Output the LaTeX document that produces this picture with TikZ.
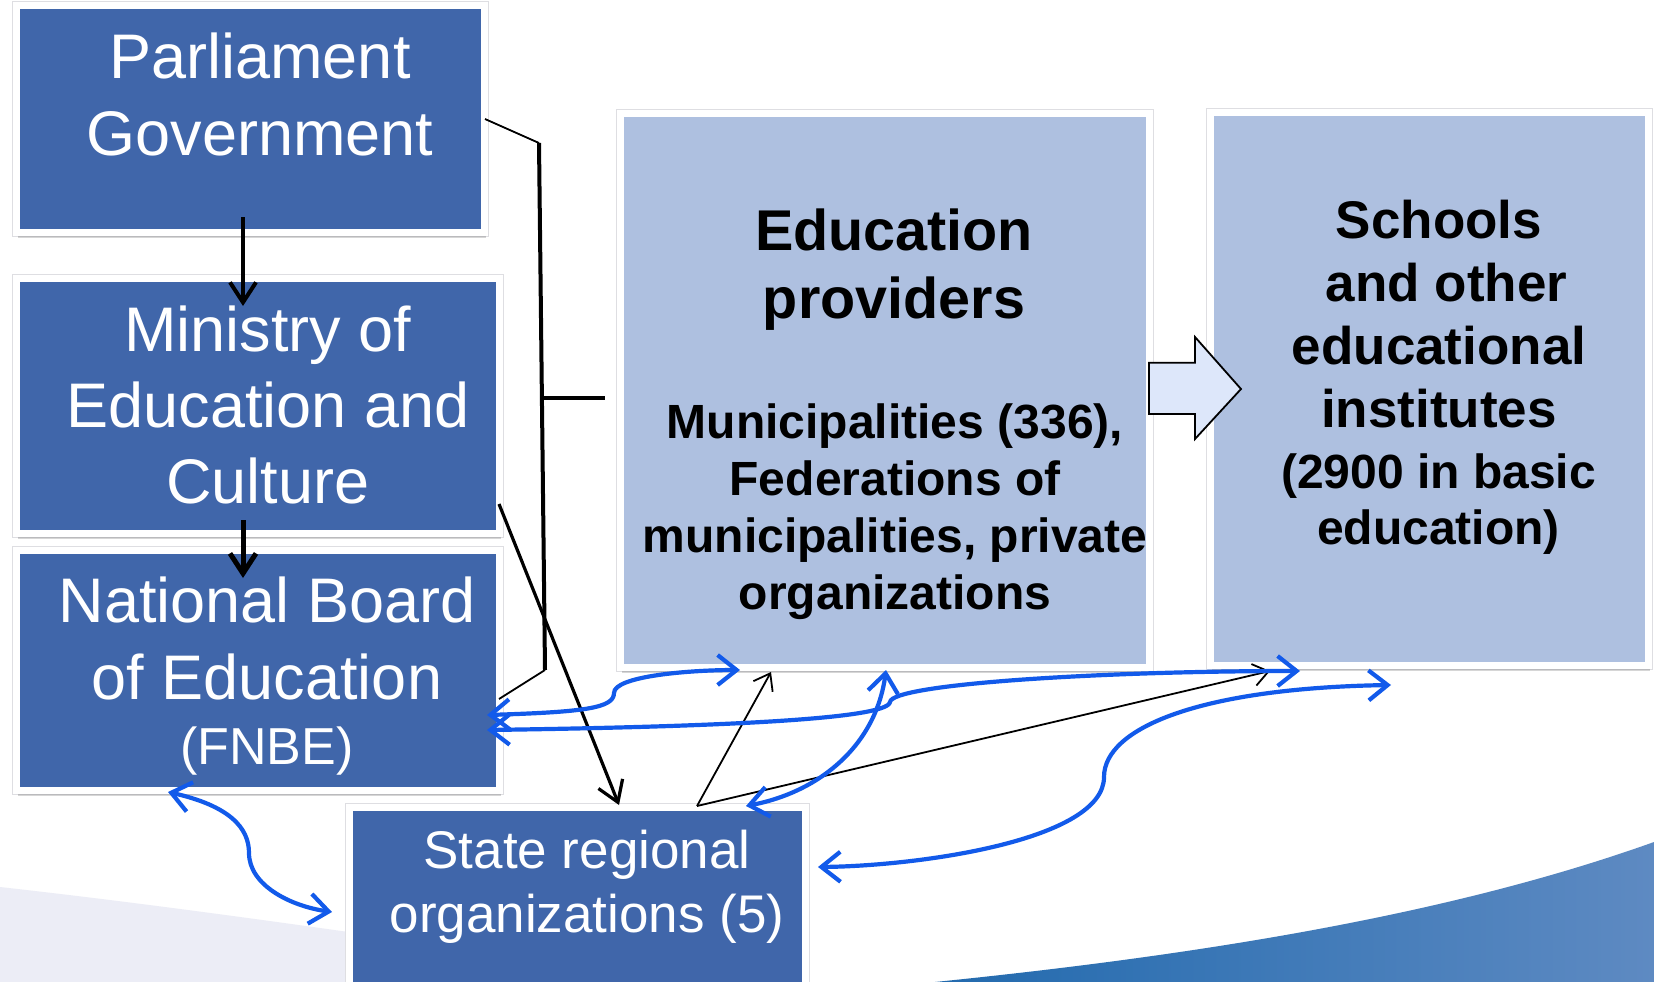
\documentclass[tikz,border=0pt]{standalone}
\usepackage{fontspec}
\setmainfont{Liberation Sans}
\usetikzlibrary{arrows.meta,shadows}
\definecolor{boxdark}{RGB}{64,102,170}
\definecolor{boxlight}{RGB}{174,192,224}
\definecolor{arrowfill}{RGB}{221,231,250}
\definecolor{linkblue}{RGB}{18,90,234}
\definecolor{bggray}{RGB}{236,237,246}
\definecolor{swooshL}{RGB}{34,106,174}
\definecolor{swooshR}{RGB}{94,138,194}
\definecolor{frameedge}{RGB}{222,222,226}
\tikzset{
  bb/.tip={Straight Barb[length=19pt,width=30pt]},
  kb/.tip={Straight Barb[length=15pt,width=22pt]},
  hb/.tip={Straight Barb[length=20pt,width=26pt]},
  frame/.style={draw=white, line width=7pt, inner sep=0pt,
    preaction={draw=frameedge, line width=9pt},
    drop shadow={shadow xshift=1pt, shadow yshift=-5pt, opacity=0.16, fill=black}},
  darkbox/.style={frame, fill=boxdark},
  lightbox/.style={frame, fill=boxlight},
  wtext/.style={text=white, align=center, inner sep=0pt, anchor=base},
  btext/.style={text=black, align=center, inner sep=0pt, anchor=base},
  blink/.style={draw=linkblue, line width=4.2pt, bb-bb},
  thinlink/.style={draw=black, line width=1.8pt, -kb},
  heavylink/.style={draw=black, line width=4pt, -hb},
  bracketthick/.style={draw=black, line width=4pt},
  bracketthin/.style={draw=black, line width=1.8pt}
}
\begin{document}
\begin{tikzpicture}[x=1pt,y=-1pt]
\useasboundingbox (0,0) rectangle (1654,982);
\fill[white] (0,0) rectangle (1654,982);
% background decoration
\fill[bggray] (0,887) .. controls (250,915) and (500,955) .. (700,982) -- (0,982) -- cycle;
\shade[left color=swooshL, right color=swooshR] (935,982) .. controls (1200,955) and (1450,915) .. (1654,842) -- (1654,982) -- cycle;

% boxes
\node[darkbox, minimum width=468pt, minimum height=227pt] (parl) at (250.5,119) {};
\node[darkbox, minimum width=483pt, minimum height=255pt] (mini) at (258,406) {};
\node[darkbox, minimum width=483pt, minimum height=240pt] (nbe) at (258,670.5) {};
\node[darkbox, minimum width=456pt, minimum height=212.5pt] (state) at (577.5,913.75) {};
\node[lightbox, minimum width=529pt, minimum height=554pt] (edu) at (885,390.5) {};
\node[lightbox, minimum width=438pt, minimum height=553.5pt] (school) at (1429.5,388.75) {};

% texts
\node[wtext, font=\fontsize{63}{77}\selectfont] (parlT) at (260,155) {Parliament\\Government};
\node[wtext, font=\fontsize{63}{76}\selectfont] (miniT) at (268,503) {Ministry of\\Education and\\Culture};
\node[wtext, font=\fontsize{63}{77}\selectfont] (nbeT) at (267,699) {National Board\\of Education};
\node[wtext, font=\fontsize{52}{62}\selectfont] (nbeF) at (267,764.5) {(FNBE)};
\node[wtext, font=\fontsize{53}{64}\selectfont] (stateT) at (587,932) {State regional\\organizations (5)};
\node[btext, font=\bfseries\fontsize{57.5}{68}\selectfont] (eduT) at (894,318) {Education\\providers};
\node[btext, font=\bfseries\fontsize{48}{57}\selectfont] (eduB) at (895,609) {Municipalities (336),\\Federations of\\municipalities, private\\organizations};
\node[btext, font=\bfseries\fontsize{53}{63}\selectfont] (schT) at (1439,427) {Schools\\\hspace*{15pt}and other\\educational\\institutes};
\node[btext, font=\bfseries\fontsize{48}{55.5}\selectfont] (schB) at (1438.5,544) {(2900 in basic\\education)};

% block arrow between providers and schools
\draw[fill=arrowfill, draw=black, line width=1.8pt, line join=miter]
  (1149,362.7) -- (1195,362.7) -- (1195,337) -- (1241,389) -- (1195,439) -- (1195,414) -- (1149,414) -- cycle;

% coordinates for connector ends
\coordinate (pOut) at (243,217);
\coordinate (mIn) at (243,306);
\coordinate (mOut) at (243,520);
\coordinate (nIn) at (243,578);
\coordinate (mSide) at (499,504);
\coordinate (sTop) at (619,805);
\coordinate (pSide) at (485,119);
\coordinate (brT) at (539,143);
\coordinate (brB) at (545,670);
\coordinate (brM) at (542,398);
\coordinate (brS) at (605,398);
\coordinate (nSide) at (499,699);
\coordinate (sApex) at (697,806);
\coordinate (eBot) at (771,672);
\coordinate (scBot) at (1270,671);
\coordinate (n1) at (487,715);
\coordinate (e1) at (740,670);
\coordinate (n2) at (487,730);
\coordinate (sc2) at (1300,671);
\coordinate (e3) at (886,670);
\coordinate (s3) at (746,806);
\coordinate (sc4) at (1391,685);
\coordinate (s4) at (818,867);
\coordinate (n5) at (168,792);
\coordinate (s5) at (332,912);

% black connectors
\draw[heavylink] (pOut) -- (mIn);
\draw[heavylink, line width=5pt] (mOut) -- (nIn);
\draw[heavylink, line width=3.2pt] (mSide) -- (sTop);
\draw[bracketthin] (pSide) -- (brT);
\draw[bracketthick] (brT) -- (brB);
\draw[bracketthick] (brM) -- (brS);
\draw[bracketthin] (brB) -- (nSide);
\draw[thinlink] (sApex) -- (eBot);
\draw[thinlink] (sApex) -- (scBot);

% blue connectors
\draw[blink] (n1) .. controls (585,712) and (614,708) .. (614,693) .. controls (614,676) and (690,670) .. (e1);
\draw[blink] (n2) .. controls (700,727) and (888,720) .. (890,702) .. controls (892,684) and (1100,671) .. (sc2);
\draw[blink] (e3) .. controls (876,745) and (820,792) .. (s3);
\draw[blink] (sc4) .. controls (1200,688) and (1104,728) .. (1104,777) .. controls (1104,840) and (920,866) .. (s4);
\draw[blink] (n5) .. controls (230,806) and (249,828) .. (249,853) .. controls (249,885) and (290,906) .. (s5);
\end{tikzpicture}
\end{document}
